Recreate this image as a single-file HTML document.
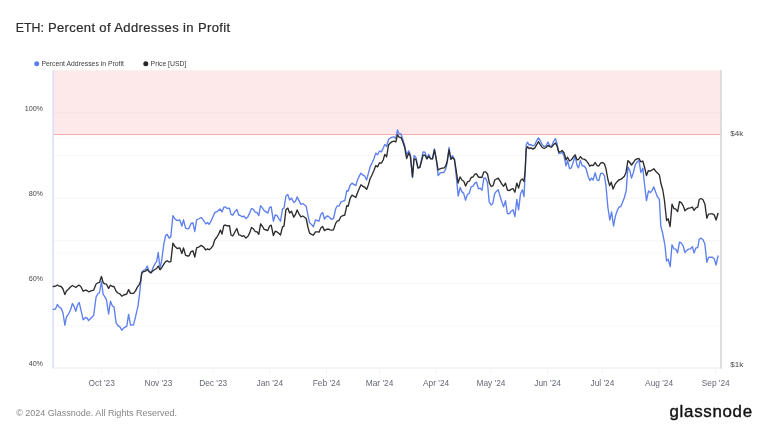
<!DOCTYPE html>
<html><head><meta charset="utf-8"><title>ETH: Percent of Addresses in Profit</title>
<style>
html,body{margin:0;padding:0;background:#fff;}
body{width:768px;height:432px;position:relative;overflow:hidden;font-family:"Liberation Sans",sans-serif;}
svg{position:absolute;left:0;top:0;display:block;}
text{font-family:"Liberation Sans",sans-serif;}
.title{font-size:12.3px;fill:#2e2e2e;stroke:#2e2e2e;stroke-width:0.22px;}
.lg{font-size:6.85px;fill:#3c3c3c;}
.yl{font-size:8.05px;fill:#484848;text-anchor:end;letter-spacing:-0.05px;}
.yr{font-size:8.1px;fill:#484848;}
.xl{font-size:8.35px;fill:#666a75;text-anchor:middle;}
#foot{font-size:9px;fill:#858585;}
#logo{font-size:16.9px;fill:#111;letter-spacing:0.7px;stroke:#111;stroke-width:0.4px;}
</style></head><body>
<svg width="768" height="432" viewBox="0 0 768 432">
<rect x="53" y="70.3" width="668" height="64.2" fill="#fde9ea"/>
<line x1="53" y1="113.0" x2="721" y2="113.0" stroke="#000" stroke-opacity="0.030" stroke-width="1"/>
<line x1="53" y1="155.6" x2="721" y2="155.6" stroke="#000" stroke-opacity="0.040" stroke-width="1"/>
<line x1="53" y1="198.2" x2="721" y2="198.2" stroke="#000" stroke-opacity="0.040" stroke-width="1"/>
<line x1="53" y1="240.8" x2="721" y2="240.8" stroke="#000" stroke-opacity="0.040" stroke-width="1"/>
<line x1="53" y1="283.3" x2="721" y2="283.3" stroke="#000" stroke-opacity="0.040" stroke-width="1"/>
<line x1="53" y1="325.9" x2="721" y2="325.9" stroke="#000" stroke-opacity="0.040" stroke-width="1"/>
<line x1="53" y1="138.1" x2="721" y2="138.1" stroke="#000" stroke-opacity="0.03" stroke-width="1"/>
<line x1="53" y1="253.0" x2="721" y2="253.0" stroke="#000" stroke-opacity="0.03" stroke-width="1"/>
<line x1="53" y1="134.5" x2="721" y2="134.5" stroke="#f8aeae" stroke-width="1.1"/>
<line x1="53" y1="368" x2="722" y2="368" stroke="#ebebed" stroke-width="1.2"/>
<line x1="101.6" y1="368" x2="101.6" y2="374" stroke="#f3f3f3" stroke-width="1"/>
<line x1="158.3" y1="368" x2="158.3" y2="374" stroke="#f3f3f3" stroke-width="1"/>
<line x1="213.1" y1="368" x2="213.1" y2="374" stroke="#f3f3f3" stroke-width="1"/>
<line x1="269.7" y1="368" x2="269.7" y2="374" stroke="#f3f3f3" stroke-width="1"/>
<line x1="326.4" y1="368" x2="326.4" y2="374" stroke="#f3f3f3" stroke-width="1"/>
<line x1="379.4" y1="368" x2="379.4" y2="374" stroke="#f3f3f3" stroke-width="1"/>
<line x1="436.0" y1="368" x2="436.0" y2="374" stroke="#f3f3f3" stroke-width="1"/>
<line x1="490.9" y1="368" x2="490.9" y2="374" stroke="#f3f3f3" stroke-width="1"/>
<line x1="547.5" y1="368" x2="547.5" y2="374" stroke="#f3f3f3" stroke-width="1"/>
<line x1="602.3" y1="368" x2="602.3" y2="374" stroke="#f3f3f3" stroke-width="1"/>
<line x1="659.0" y1="368" x2="659.0" y2="374" stroke="#f3f3f3" stroke-width="1"/>
<line x1="715.6" y1="368" x2="715.6" y2="374" stroke="#f3f3f3" stroke-width="1"/>
<line x1="53.1" y1="70.3" x2="53.1" y2="368.4" stroke="#d9defc" stroke-width="1.45"/>
<line x1="721" y1="70.3" x2="721" y2="368.4" stroke="#d9d9d9" stroke-width="1.7"/>
<path d="M53.2 309.4 L55.5 309.0 L57.4 304.4 L59.2 307.2 L61.1 308.1 L63.0 313.1 L64.9 325.2 L66.5 316.9 L68.6 313.8 L70.5 310.0 L72.4 303.5 L74.2 306.9 L75.8 311.2 L77.6 304.8 L79.2 302.5 L80.8 309.4 L83.2 319.8 L85.5 317.5 L87.0 317.8 L88.6 320.6 L91.1 318.1 L93.6 315.6 L96.1 296.9 L98.0 293.5 L99.5 292.8 L101.4 281.5 L103.2 294.4 L104.9 296.9 L106.5 299.8 L108.6 314.0 L110.5 301.2 L112.4 306.0 L114.0 306.9 L116.1 322.8 L118.0 325.6 L119.9 326.9 L121.8 330.2 L123.6 328.1 L126.8 326.2 L128.6 314.4 L130.5 325.0 L133.6 324.8 L135.5 316.9 L138.0 306.2 L139.9 291.2 L141.0 279.8 L141.6 272.2 L143.5 270.4 L145.4 269.5 L147.2 266.0 L149.1 271.2 L151.0 272.9 L152.9 267.9 L154.8 264.1 L156.6 261.6 L158.2 252.5 L160.0 268.2 L161.6 261.0 L163.8 244.1 L165.6 235.6 L167.2 234.4 L169.1 238.1 L170.8 236.9 L172.9 215.6 L175.0 219.0 L177.2 220.6 L179.8 220.0 L181.9 226.2 L183.5 219.8 L185.6 228.1 L187.9 228.8 L189.1 228.1 L191.0 223.5 L192.9 222.8 L194.8 231.5 L196.6 219.8 L198.5 219.0 L201.2 217.5 L202.9 219.4 L205.8 224.0 L207.5 222.5 L209.1 224.4 L211.0 221.2 L214.8 212.5 L216.6 211.9 L220.0 209.0 L222.0 211.9 L223.8 207.2 L225.4 206.9 L227.2 208.5 L229.5 208.1 L231.0 214.4 L232.8 215.2 L234.6 212.2 L236.8 209.4 L238.8 215.0 L240.5 215.6 L242.1 216.9 L243.8 216.0 L245.9 218.5 L247.8 216.9 L249.6 213.1 L251.5 208.5 L253.4 209.4 L255.2 212.2 L257.1 212.5 L258.8 215.6 L260.6 205.6 L262.5 208.1 L264.2 210.6 L266.2 211.9 L267.8 213.1 L269.6 207.5 L271.2 206.9 L273.4 221.2 L275.2 215.0 L277.1 215.6 L279.0 218.8 L280.5 221.2 L282.5 208.8 L284.0 208.1 L285.9 196.0 L287.8 194.4 L289.6 200.0 L291.5 198.1 L293.8 202.5 L295.5 201.2 L297.1 196.9 L299.0 200.6 L300.9 204.4 L302.8 203.5 L304.6 205.0 L306.2 206.2 L308.0 215.6 L309.6 222.8 L311.5 224.4 L313.4 226.9 L315.5 220.0 L317.5 220.6 L319.0 221.2 L320.8 214.4 L322.6 212.5 L324.5 219.0 L326.4 216.5 L328.0 216.0 L330.1 218.1 L331.8 219.4 L333.5 218.5 L335.8 208.5 L337.2 206.0 L338.9 206.2 L341.0 201.9 L343.0 201.0 L344.8 200.6 L346.8 190.6 L348.2 191.0 L350.1 185.2 L352.0 183.1 L353.9 184.4 L355.8 185.6 L357.6 179.8 L359.5 175.6 L361.0 173.1 L363.0 175.2 L364.8 176.2 L366.6 180.0 L368.5 172.8 L370.1 166.9 L372.0 163.1 L373.9 158.8 L375.8 153.1 L377.6 154.8 L379.5 151.0 L381.4 151.9 L383.2 148.1 L384.8 144.4 L386.6 146.5 L388.5 139.5 L390.4 137.9 L392.2 137.2 L394.1 137.0 L395.8 138.5 L397.5 130.0 L399.1 134.1 L401.0 133.8 L402.9 139.8 L404.8 146.0 L406.6 154.8 L408.8 150.8 L410.4 154.8 L412.5 177.5 L414.1 155.6 L416.0 157.5 L417.9 168.1 L419.8 167.2 L421.2 161.2 L423.1 151.9 L425.0 152.2 L426.9 158.1 L428.8 154.4 L430.6 158.5 L432.5 158.8 L434.4 149.0 L436.2 158.5 L438.1 175.6 L440.0 173.1 L441.9 172.5 L443.8 172.5 L445.6 169.4 L447.2 163.1 L449.0 147.5 L450.9 158.8 L452.5 155.6 L454.4 159.4 L456.2 175.6 L458.2 196.2 L460.1 187.5 L462.0 191.9 L463.6 193.1 L465.5 200.2 L467.4 194.4 L469.2 193.5 L471.1 186.9 L473.0 186.2 L474.9 183.1 L476.5 182.2 L478.4 188.8 L480.2 188.1 L482.0 190.2 L483.9 177.8 L485.5 178.1 L487.4 182.2 L489.2 201.9 L491.1 205.0 L492.8 203.5 L494.6 193.8 L496.5 191.2 L498.2 189.8 L500.1 196.2 L502.0 202.5 L503.6 206.9 L505.5 200.6 L507.4 213.5 L509.2 213.8 L511.1 211.2 L513.0 209.8 L514.9 216.5 L516.8 199.4 L518.6 209.8 L520.5 193.8 L522.4 189.8 L524.0 196.5 L525.2 172.5 L526.2 144.8 L527.5 142.2 L529.1 145.0 L531.0 144.5 L532.9 146.0 L534.8 144.8 L536.6 140.8 L538.5 137.9 L540.4 140.8 L542.2 144.8 L544.1 146.6 L546.0 145.8 L547.9 142.0 L549.8 145.8 L551.6 146.2 L553.5 141.6 L555.4 138.5 L557.0 143.5 L558.9 153.5 L560.8 153.2 L562.2 152.2 L564.1 156.0 L566.0 165.8 L567.6 160.4 L569.5 168.5 L571.4 167.9 L573.2 162.2 L575.1 156.0 L577.0 165.4 L578.5 167.9 L580.4 160.4 L582.2 165.8 L584.1 166.0 L586.0 168.5 L588.1 176.2 L589.8 180.6 L591.5 178.1 L593.1 180.0 L595.2 172.8 L597.1 180.2 L598.8 180.6 L600.6 173.5 L602.5 173.1 L604.4 175.6 L606.0 186.2 L607.9 207.5 L609.8 220.0 L611.6 211.9 L613.5 226.0 L615.4 216.2 L617.2 210.6 L618.9 207.2 L620.8 206.5 L622.5 202.5 L624.4 197.5 L626.2 190.6 L627.9 166.9 L629.8 170.6 L631.5 178.1 L633.4 172.5 L635.2 165.0 L637.1 161.9 L639.0 160.6 L640.9 172.5 L642.8 168.1 L644.6 185.0 L646.5 200.6 L648.5 191.0 L650.4 192.5 L652.0 190.6 L653.8 186.9 L655.6 191.9 L657.5 196.9 L659.4 199.4 L660.8 226.2 L662.5 232.5 L664.9 244.8 L666.5 261.0 L668.2 259.1 L670.2 266.6 L672.0 244.8 L673.9 248.8 L675.8 249.1 L677.6 252.9 L679.5 242.2 L681.4 243.2 L683.2 246.0 L684.9 252.5 L686.8 250.4 L688.6 249.1 L690.5 248.8 L692.4 246.6 L694.0 252.9 L695.9 247.9 L697.8 247.5 L699.2 239.1 L701.1 238.2 L703.0 239.8 L704.9 244.1 L706.8 262.2 L708.6 257.5 L710.5 257.2 L712.4 257.2 L714.2 258.8 L716.1 265.0 L718.0 256.0" fill="none" stroke="#5d80ee" stroke-width="1.35" stroke-linejoin="round" stroke-linecap="round"/>
<path d="M53.2 286.5 L55.5 286.2 L57.4 285.0 L59.2 286.2 L61.1 286.5 L63.0 289.0 L64.9 294.6 L66.5 290.9 L68.6 289.0 L70.5 287.1 L72.4 285.5 L74.2 286.5 L75.8 287.5 L77.6 285.9 L79.2 285.2 L80.8 286.5 L83.2 291.2 L85.5 290.2 L87.0 290.5 L88.6 291.8 L91.1 290.9 L93.6 290.2 L96.1 284.0 L98.0 282.8 L99.5 282.4 L101.4 276.5 L103.2 282.8 L104.9 283.8 L106.5 284.2 L108.6 288.4 L110.5 285.2 L112.4 286.5 L114.0 286.5 L116.1 291.2 L118.0 293.0 L119.9 293.8 L121.8 296.2 L123.6 295.0 L126.8 294.0 L128.6 289.6 L130.5 293.4 L133.6 293.4 L135.5 290.9 L137.4 287.1 L139.2 284.6 L140.5 281.5 L141.8 273.4 L143.0 271.8 L145.4 271.2 L147.2 269.5 L149.1 271.6 L151.0 272.9 L152.9 270.8 L154.8 269.5 L156.6 268.5 L158.2 266.0 L160.0 269.8 L161.6 267.9 L163.8 264.1 L165.6 261.6 L167.2 260.8 L169.1 262.0 L170.8 261.6 L172.9 243.2 L175.0 246.6 L177.2 248.5 L179.8 247.9 L181.9 253.5 L183.5 247.9 L185.6 255.4 L187.9 256.0 L189.1 255.8 L191.0 251.6 L192.9 250.8 L194.8 257.0 L196.6 247.9 L198.5 247.2 L201.2 245.4 L203.5 247.0 L205.8 250.0 L207.5 248.8 L209.1 249.8 L211.0 248.2 L212.9 245.8 L214.8 239.8 L216.6 237.5 L218.5 234.4 L220.4 230.0 L222.0 234.0 L223.8 225.6 L225.4 225.0 L227.2 226.0 L229.5 225.6 L231.0 235.0 L232.8 236.0 L234.6 232.5 L236.8 228.5 L238.8 234.8 L240.5 235.2 L242.1 236.5 L243.8 235.6 L245.9 238.1 L247.8 236.5 L249.6 233.1 L251.5 227.5 L253.4 228.8 L255.2 231.5 L257.1 231.9 L258.8 234.4 L260.6 223.8 L262.5 226.5 L264.2 229.4 L266.2 230.0 L267.8 230.6 L269.6 226.0 L271.2 225.2 L273.4 235.6 L275.2 231.2 L277.1 231.9 L279.0 233.5 L280.5 235.0 L282.5 226.9 L284.0 226.2 L285.9 209.8 L287.8 208.1 L289.6 213.1 L291.5 211.2 L293.8 217.2 L295.5 214.4 L297.1 210.0 L299.0 213.8 L300.9 216.9 L302.8 216.0 L304.6 217.2 L306.2 218.5 L308.0 227.5 L309.6 233.1 L311.5 234.4 L313.4 235.2 L315.5 231.9 L317.5 231.9 L319.0 232.2 L320.8 228.1 L322.6 226.5 L324.5 230.6 L326.4 229.4 L328.0 229.0 L330.1 229.8 L331.8 230.2 L333.5 229.8 L335.8 223.1 L337.2 221.0 L338.9 220.6 L341.0 216.5 L343.0 215.6 L344.8 215.0 L346.8 205.6 L348.2 206.2 L350.1 198.5 L352.0 195.2 L353.9 196.2 L355.8 197.5 L357.6 192.5 L359.5 188.1 L361.0 184.8 L363.0 186.5 L364.8 187.2 L366.6 189.4 L368.5 184.4 L370.1 178.8 L372.0 175.0 L373.9 170.6 L375.8 165.6 L377.6 166.9 L379.5 162.8 L381.4 163.1 L383.2 160.0 L384.8 154.4 L386.6 156.9 L388.5 145.0 L390.4 142.9 L392.2 141.6 L394.1 141.2 L395.8 142.0 L397.5 134.8 L399.1 137.2 L401.0 137.5 L402.9 142.0 L404.8 147.9 L406.6 158.5 L408.8 152.9 L410.4 156.6 L412.5 176.9 L414.1 158.8 L416.0 159.4 L417.9 167.8 L419.8 167.5 L421.2 162.5 L423.1 155.2 L425.0 155.2 L426.9 159.0 L428.8 156.2 L430.6 158.8 L432.5 158.8 L434.4 150.0 L436.2 158.8 L438.1 170.0 L440.0 168.8 L441.9 168.1 L443.8 168.1 L445.6 166.2 L447.2 161.2 L449.0 149.8 L450.9 159.4 L452.5 157.5 L454.4 159.4 L456.2 170.6 L458.1 183.1 L460.0 176.9 L461.9 180.0 L463.8 181.2 L465.6 186.0 L467.5 181.9 L469.4 181.2 L471.2 177.5 L473.1 176.9 L475.0 174.0 L476.5 173.8 L478.5 177.2 L480.0 177.2 L481.9 177.5 L483.8 171.9 L485.6 171.9 L487.5 174.0 L489.4 183.1 L491.2 186.5 L493.1 185.6 L494.8 180.0 L496.5 179.0 L498.2 178.1 L500.1 181.2 L502.0 184.4 L503.6 186.2 L505.5 183.1 L507.4 190.0 L509.2 190.6 L511.1 189.4 L513.0 188.5 L514.9 192.2 L516.8 183.1 L518.6 188.1 L520.5 180.6 L522.4 179.0 L524.0 181.5 L525.2 170.0 L526.2 149.1 L527.5 146.6 L529.1 148.5 L531.0 147.9 L532.9 149.1 L534.8 147.9 L536.6 144.8 L538.5 141.6 L540.4 144.8 L542.2 147.5 L544.1 148.5 L546.0 147.5 L547.9 145.4 L549.8 146.6 L551.6 147.2 L553.5 144.8 L555.4 142.9 L557.0 146.0 L558.9 152.2 L560.8 151.6 L562.2 150.4 L564.1 152.9 L566.0 159.8 L567.6 157.2 L569.5 161.0 L571.4 159.8 L573.2 157.2 L575.1 154.8 L577.0 159.8 L578.5 159.5 L580.4 156.6 L582.2 158.8 L584.1 159.1 L586.0 160.4 L588.1 163.1 L589.8 166.2 L591.5 165.2 L593.1 165.6 L595.2 162.5 L597.1 165.6 L598.8 166.0 L600.6 163.1 L602.5 162.5 L604.4 163.8 L606.0 168.8 L607.8 179.0 L609.6 185.6 L611.2 182.2 L613.1 189.0 L615.0 184.4 L616.9 181.9 L618.8 180.0 L620.6 179.4 L622.5 178.1 L624.4 176.2 L626.0 172.5 L627.9 160.6 L629.8 162.5 L631.5 165.0 L633.4 162.5 L635.2 159.8 L637.1 158.8 L639.0 158.5 L640.9 161.9 L642.8 161.0 L644.6 167.5 L646.5 175.6 L648.4 170.6 L650.0 171.2 L651.9 170.2 L653.8 168.8 L655.6 171.0 L657.5 173.1 L659.4 175.0 L661.0 183.8 L662.8 190.0 L664.4 200.0 L666.6 220.6 L668.2 218.8 L670.1 226.5 L672.0 204.1 L673.9 208.5 L675.8 209.1 L677.6 211.6 L679.5 201.6 L681.4 202.9 L683.2 205.8 L684.9 210.8 L686.8 209.1 L688.6 208.2 L690.5 207.9 L692.4 207.0 L694.0 210.4 L695.9 207.9 L697.8 207.2 L699.2 199.5 L701.1 198.5 L703.0 199.8 L704.9 204.1 L706.8 218.2 L708.6 214.1 L710.5 213.8 L712.4 213.8 L714.2 214.8 L716.1 220.0 L718.0 213.5" fill="none" stroke="#2c2c2c" stroke-width="1.35" stroke-linejoin="round" stroke-linecap="round"/>
<circle cx="36.7" cy="63.8" r="2.5" fill="#5b7fee"/>
<circle cx="145.8" cy="63.7" r="2.5" fill="#262626"/>
<text class="title" x="15.8" y="31.7">ETH:</text>
<text class="title" x="0" y="31.7" transform="translate(47.9 0) scale(1.06 1)" style="letter-spacing:0.35px">Percent of Addresses in Profit</text>
<text class="lg" x="41.4" y="66.3">Percent Addresses in Profit</text>
<text class="lg" x="150.6" y="66.3">Price [USD]</text>
<text class="yl" x="0" y="0" transform="translate(43.0 111.0) scale(0.9 1)">100%</text>
<text class="yl" x="0" y="0" transform="translate(43.0 196.1) scale(0.9 1)">80%</text>
<text class="yl" x="0" y="0" transform="translate(43.0 281.3) scale(0.9 1)">60%</text>
<text class="yl" x="0" y="0" transform="translate(43.0 366.4) scale(0.9 1)">40%</text>
<text class="yr" x="730.2" y="136.3">$4k</text>
<text class="yr" x="730.2" y="366.6">$1k</text>
<text class="xl" x="101.7" y="385.6">Oct '23</text>
<text class="xl" x="158.4" y="385.6">Nov '23</text>
<text class="xl" x="213.2" y="385.6">Dec '23</text>
<text class="xl" x="269.8" y="385.6">Jan '24</text>
<text class="xl" x="326.5" y="385.6">Feb '24</text>
<text class="xl" x="379.5" y="385.6">Mar '24</text>
<text class="xl" x="436.1" y="385.6">Apr '24</text>
<text class="xl" x="491.0" y="385.6">May '24</text>
<text class="xl" x="547.6" y="385.6">Jun '24</text>
<text class="xl" x="602.4" y="385.6">Jul '24</text>
<text class="xl" x="659.1" y="385.6">Aug '24</text>
<text class="xl" x="715.7" y="385.6">Sep '24</text>
<text id="foot" x="16.2" y="416">© 2024 Glassnode. All Rights Reserved.</text>
<text id="logo" x="669.5" y="416.6">glassnode</text>
</svg>
</body></html>
